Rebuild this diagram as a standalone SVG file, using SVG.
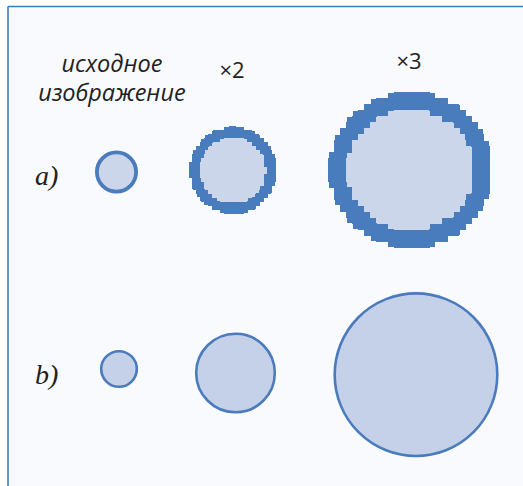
<svg xmlns="http://www.w3.org/2000/svg" width="523" height="486" viewBox="0 0 523 486">
<style>
.lbl{font-family:"Open Sans","Noto Sans",sans-serif;font-style:italic;font-size:23.5px;fill:#222}
.mul{font-family:"Open Sans","Noto Sans",sans-serif;font-size:22px;fill:#222}
.row{font-family:"Liberation Serif",serif;font-style:italic;font-size:28px;fill:#222}
.px{fill:#cbd6eb;stroke:#4a7bbd;shape-rendering:crispEdges}
.sm{fill:#c5d1e8;stroke:#4a7bbd;stroke-width:2.6}
</style>
<defs>
<filter id="pix4" filterUnits="userSpaceOnUse" x="184" y="122" width="100" height="100">
<feFlood x="185" y="123" width="2" height="2" flood-color="#000" result="d"/>
<feOffset in="d" x="184" y="122" width="4" height="4" dx="0" dy="0" result="t"/>
<feTile in="t" result="g"/>
<feComposite in="SourceGraphic" in2="g" operator="in"/>
<feMorphology operator="dilate" radius="1"/>
</filter>
<filter id="pix6" filterUnits="userSpaceOnUse" x="322" y="86" width="180" height="174">
<feFlood x="324" y="88" width="2" height="2" flood-color="#000" result="d"/>
<feOffset in="d" x="322" y="86" width="6" height="6" dx="0" dy="0" result="t"/>
<feTile in="t" result="g"/>
<feComposite in="SourceGraphic" in2="g" operator="in"/>
<feMorphology operator="dilate" radius="2"/>
</filter>
</defs>
<rect x="0" y="0" width="523" height="486" fill="#ffffff"/>
<rect x="8" y="6.5" width="520" height="485" fill="#f8fafd"/>
<g id="frame" fill="none" stroke="#3d7ebf" stroke-width="1.6">
<line x1="8" y1="6.5" x2="523" y2="6.5"/>
<line x1="8" y1="6.5" x2="8" y2="486"/>
</g>
<g id="labels">
<text class="lbl" x="112" y="72" text-anchor="middle">исходное</text>
<text class="lbl" x="112" y="101" text-anchor="middle">изображение</text>
<text class="mul" x="232" y="78" text-anchor="middle">×2</text>
<text class="mul" x="409" y="69" text-anchor="middle">×3</text>
<text class="row" x="35" y="185">a)</text>
<text class="row" x="35" y="384">b)</text>
</g>
<g id="row-a">
<circle id="a1" class="px" cx="116.5" cy="172" r="19.6" stroke-width="3.8" style="shape-rendering:auto"/>
<g id="a2" filter="url(#pix4)"><circle class="px" cx="233" cy="170.5" r="38" stroke-width="10.5"/></g>
<g id="a3" filter="url(#pix6)"><ellipse class="px" cx="410.5" cy="170" rx="72" ry="68.5" stroke-width="18"/></g>
</g>
<g id="row-b">
<circle id="b1" class="sm" cx="119" cy="369" r="17.8"/>
<circle id="b2" class="sm" cx="235.5" cy="373" r="39.3"/>
<circle id="b3" class="sm" cx="416" cy="374.7" r="81.3"/>
</g>
</svg>
